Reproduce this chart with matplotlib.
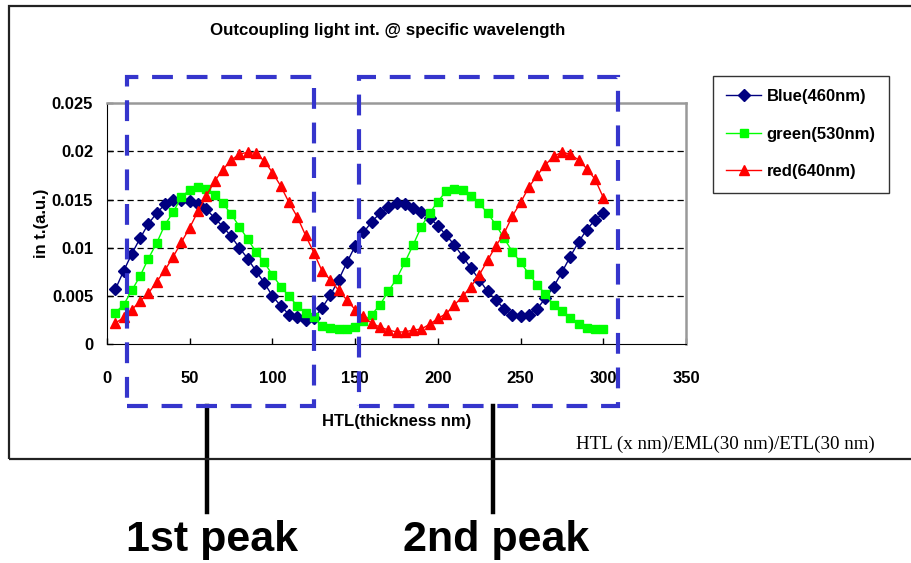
import matplotlib
matplotlib.use("Agg")
import matplotlib.pyplot as plt
from matplotlib.patches import Rectangle
import numpy as np

# HTL thickness (nm), 5 nm steps
thickness = list(range(5, 305, 5))

blue = [0.0057, 0.0076, 0.0094, 0.0110, 0.0125, 0.0136, 0.0145, 0.0150, 0.0150, 0.0149,
        0.0145, 0.0140, 0.0131, 0.0122, 0.0112, 0.0100, 0.0089, 0.0076, 0.0064, 0.0050,
        0.0040, 0.0031, 0.0028, 0.0025, 0.0027, 0.0038, 0.0051, 0.0067, 0.0085, 0.0102,
        0.0116, 0.0127, 0.0136, 0.0142, 0.0146, 0.0145, 0.0141, 0.0137, 0.0131, 0.0123,
        0.0113, 0.0103, 0.0091, 0.0079, 0.0067, 0.0055, 0.0046, 0.0037, 0.0031, 0.0029,
        0.0031, 0.0037, 0.0048, 0.0060, 0.0075, 0.0091, 0.0106, 0.0119, 0.0129, 0.0136]

green = [0.0033, 0.0041, 0.0056, 0.0071, 0.0089, 0.0105, 0.0124, 0.0137, 0.0153, 0.0160,
         0.0163, 0.0161, 0.0155, 0.0146, 0.0135, 0.0122, 0.0109, 0.0096, 0.0085, 0.0072,
         0.0060, 0.0050, 0.0040, 0.0033, 0.0028, 0.0019, 0.0017, 0.0016, 0.0016, 0.0018,
         0.0024, 0.0031, 0.0041, 0.0055, 0.0068, 0.0085, 0.0103, 0.0122, 0.0136, 0.0148,
         0.0159, 0.0161, 0.0160, 0.0154, 0.0146, 0.0136, 0.0124, 0.0110, 0.0096, 0.0085,
         0.0073, 0.0062, 0.0052, 0.0041, 0.0035, 0.0027, 0.0021, 0.0017, 0.0016, 0.0016]

red = [0.0022, 0.0028, 0.0036, 0.0045, 0.0053, 0.0065, 0.0077, 0.0091, 0.0106, 0.0121,
       0.0138, 0.0154, 0.0169, 0.0181, 0.0191, 0.0197, 0.0199, 0.0198, 0.0190, 0.0178,
       0.0164, 0.0147, 0.0132, 0.0113, 0.0095, 0.0076, 0.0067, 0.0056, 0.0046, 0.0036,
       0.0029, 0.0022, 0.0018, 0.0015, 0.0013, 0.0013, 0.0015, 0.0016, 0.0021, 0.0027,
       0.0032, 0.0041, 0.0050, 0.0060, 0.0072, 0.0087, 0.0102, 0.0115, 0.0133, 0.0147,
       0.0163, 0.0175, 0.0186, 0.0195, 0.0199, 0.0197, 0.0191, 0.0182, 0.0171, 0.0152]

labels = ['Blue(460nm)', 'green(530nm)', 'red(640nm)']
x_ticks = [0, 50, 100, 150, 200, 250, 300, 350]
y_ticks = [0, 0.005, 0.01, 0.015, 0.02, 0.025]
y_tick_labels = ['0', '0.005', '0.01', '0.015', '0.02', '0.025']

narrow = ['Liberation Sans', 'DejaVu Sans']

fig = plt.figure(figsize=(9.11, 5.63), dpi=100)
ax = fig.add_axes([0.1175, 0.3881, 0.6356, 0.429])

ax.plot(thickness, blue, color='#000080', lw=1, marker='D', ms=6, label=labels[0])
ax.plot(thickness, green, color='#00FF00', lw=1, marker='s', ms=6, label=labels[1])
ax.plot(thickness, red, color='#FF0000', lw=1, marker='^', ms=7.5, label=labels[2])

ax.set_xlim(0, 350)
ax.set_ylim(0, 0.025)
ax.set_xticks(x_ticks)
ax.set_yticks(y_ticks)
ax.set_yticklabels(y_tick_labels)
for t in ax.get_xticklabels() + ax.get_yticklabels():
    t.set_family(narrow)
    t.set_fontweight('bold')
    t.set_fontsize(12)
ax.tick_params(direction='in', length=4, width=1, pad=10)
ax.tick_params(axis='x', pad=19)

for y in y_ticks[1:-1]:
    ax.axhline(y, color='black', lw=0.9, ls=(0, (5, 3)), zorder=0.5)

ax.spines['left'].set_color('black')
ax.spines['bottom'].set_color('black')
ax.spines['top'].set_color('#999999')
ax.spines['right'].set_color('#999999')
ax.spines['top'].set_linewidth(1.8)
ax.spines['right'].set_linewidth(1.8)

ax.set_xlabel('HTL(thickness nm)', family=narrow, fontweight='bold', fontsize=12, labelpad=20)
ax.set_ylabel('in t.(a.u.)', family=narrow, fontweight='bold', fontsize=12, labelpad=2)
fig.text(0.426, 0.946, 'Outcoupling light int. @ specific wavelength', family=narrow,
         fontweight='bold', fontsize=12.2, ha='center', va='center')

leg = ax.legend(loc='upper left', bbox_to_anchor=(1.0466, 1.112), frameon=True, fancybox=False,
                edgecolor='black', prop={'family': narrow, 'weight': 'bold', 'size': 12},
                handlelength=2.1, borderpad=0.8, labelspacing=1.35,
                handletextpad=0.3, borderaxespad=0)
leg.get_frame().set_linewidth(1)

# dashed boxes marking the 1st and 2nd peak regions (data units)
peak_boxes = [(12.1, 125.2), (152.4, 308.6)]
box_y = (-0.00637, 0.0277)
for x0, x1 in peak_boxes:
    r = Rectangle((x0, box_y[0]), x1 - x0, box_y[1] - box_y[0], fill=False,
                  edgecolor='#3535CC', lw=3, ls=(0, (5, 3.3)), clip_on=False, zorder=10)
    ax.add_patch(r)

# pointer lines down to the peak labels
pointer_x = [60.5, 233.4]
for px in pointer_x:
    ax.plot([px, px], [-0.00637, -0.01734], color='black', lw=3.2, clip_on=False, zorder=9)

fig.text(0.2327, 0.040, '1st peak', fontsize=31, fontweight='bold', family='Liberation Sans',
         ha='center', va='center')
fig.text(0.5445, 0.040, '2nd peak', fontsize=31, fontweight='bold', family='Liberation Sans',
         ha='center', va='center')

fig.text(0.6323, 0.211, 'HTL (x nm)/EML(30 nm)/ETL(30 nm)', family='Liberation Serif',
         fontsize=13.7, ha='left', va='center')

# outer chart frame
fig.patches.append(Rectangle((9 / 911, 104 / 563), 1.1, 453 / 563, transform=fig.transFigure,
                             fill=False, edgecolor='#222222', lw=1.6, clip_on=False))

fig.savefig('out.png', dpi=100)
